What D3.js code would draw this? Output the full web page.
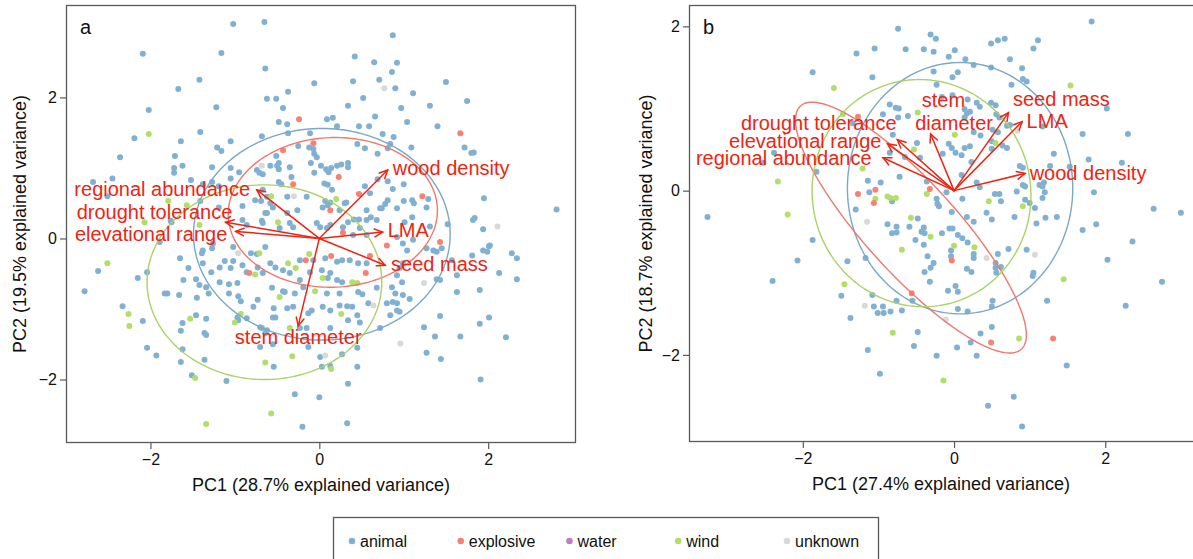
<!DOCTYPE html>
<html>
<head>
<meta charset="utf-8">
<script src="https://cdn.jsdelivr.net/npm/d3@7"></script>
<style>
  body { margin: 0; background: #fff; }
  svg { display: block; font-family: "Liberation Sans", Arial, Helvetica, sans-serif; }
</style>
</head>
<body>
<svg id="chart" width="1193" height="559"></svg>
<script>
// Dispersal syndromes and their colours
const seedTypes = ["animal", "explosive", "water", "wind", "unknown"];
const seedColors = ["#80B1D3", "#FB8072", "#BC80BD", "#B3DE69", "#D9D9D9"];

// Trait loadings (arrow tips) for both PCAs
const traitNames = ["regional abundance", "drought tolerance", "elevational range", "wood density", "LMA", "seed mass", "stem diameter"];
const loadA_PC1 = [-0.74, -1.11, -0.99, 0.81, 0.75, 0.78, -0.25];
const loadA_PC2 = [0.69, 0.23, 0.10, 0.97, 0.09, -0.38, -1.24];
const loadB_PC1 = [-0.94, -0.75, -0.88, 0.94, 0.90, 0.72, -0.31];
const loadB_PC2 = [0.40, 0.62, 0.57, 0.21, 0.84, 0.95, 0.69];

const axisTicks = [-2, 0, 2];
const varianceA = [28.7, 19.5];
const varianceB = [27.4, 18.7];

// Group ellipses: [type, centre PC1, centre PC2, semi-axis a, semi-axis b, rotation (rad)]
const ellipsesA = [
  ["animal", 0.03, 0.06, 1.52, 1.50, 0],
  ["explosive", 0.16, 0.37, 1.24, 1.06, 0.08],
  ["wind", -0.65, -0.62, 1.39, 1.38, 0]
];
const ellipsesB = [
  ["animal", 0.08, 0.03, 1.49, 1.53, 0],
  ["explosive", -0.57, -0.45, 2.08, 0.58, -Math.PI / 4],
  ["wind", -0.43, -0.03, 1.45, 1.38, -0.2]
];

// Species scores, panel a
const aAnimal = [
  [-1.02,3.04],[-0.65,3.07],[-2.09,2.62],[-1.16,2.63],[-0.64,2.41],[-1.42,2.25],[-1.67,2.12],[-1.22,1.86],[-0.62,1.98],[-2.02,1.82],[-2.19,1.42],[-1.41,1.51],[-1.64,1.38],[-1.21,1.29],[-1.16,1.24],[-1.05,1.38],[-0.68,1.45],[-1.71,1.17],[-2.36,1.15],[-1.62,1.03],[-1.72,1.00],[-1.72,0.93],[-1.27,1.01],[-1.05,1.00],[-1.05,0.85],[-0.95,0.94],[-0.74,0.97],[-0.71,0.93],[-0.67,0.91],[-1.52,0.83],[-2.68,0.80],[-2.45,0.85],[-2.51,0.60],[-1.38,0.77],[-1.27,0.80],[-1.19,0.74],[-0.67,0.69],[-0.76,0.54],[-0.69,0.53],[-0.62,0.59],[-1.41,0.53],[-1.19,0.44],[-0.91,0.46],[-1.76,0.25],[-0.58,0.50],[-0.64,0.36],[-0.68,0.25],[-0.91,0.26],[-0.86,0.19],
  [-0.51,1.98],[-0.43,1.85],[-0.37,2.08],[-0.06,2.20],[0.87,2.88],[0.42,2.58],[0.65,2.50],[0.92,2.49],[0.86,2.36],[0.40,2.23],[0.71,2.25],[0.90,2.13],[1.11,2.06],[1.50,2.22],[0.52,1.99],[0.34,1.88],[0.97,1.85],[1.31,1.88],[1.75,1.95],[-0.48,1.65],[-0.38,1.62],[0.09,1.69],[0.16,1.71],[0.21,1.59],[0.47,1.59],[0.59,1.59],[0.66,1.73],[1.04,1.65],[1.40,1.59],[-0.37,1.49],[-0.11,1.49],[0.75,1.48],[0.88,1.44],[0.45,1.34],[0.54,1.28],[1.09,1.29],[1.72,1.29],[1.80,1.21],[1.83,1.22],[-0.25,1.31],[-0.12,1.29],[-0.07,1.27],[-0.51,1.17],[-0.06,1.20],[-0.03,1.15],[0.81,1.28],[0.84,1.34],[0.69,1.20],[-0.58,1.03],[-0.50,1.03],[-0.48,1.07],[-0.48,0.98],[-0.35,1.01],[-0.33,0.87],[-0.10,1.07],[-0.06,0.93],[0.02,1.03],[0.08,0.98],[0.11,0.94],[0.14,1.00],[0.21,1.03],[0.26,1.05],[0.34,1.07],[0.34,1.01],[-0.48,0.80],[-0.45,0.77],[-0.38,0.59],[-0.15,0.59],[0.06,0.78],[0.10,0.76],[0.15,0.69],[0.32,0.51],[0.13,0.51],[0.07,0.53],[0.54,0.74],[0.60,0.64],[0.69,0.84],[0.81,0.81],[1.00,0.77],[0.87,0.70],[1.29,0.56],[1.00,0.53],[1.10,0.54],[1.12,0.50],[0.81,0.54],[0.78,0.49],[0.74,0.43],[0.72,0.43],[0.92,0.43],[1.95,0.57],[1.84,0.29],[0.56,0.40],[0.56,0.26],[0.61,0.30],[0.47,0.27],[0.41,0.27],[0.68,0.26],[0.24,0.40],[0.30,0.50],[0.04,0.44],[0.10,0.47],[-0.26,0.40],[-0.38,0.36],[-0.55,0.44],[-0.62,0.36],[-0.67,0.22],[-0.47,0.15],[-0.31,0.16],[0.01,0.16],[0.09,0.15],[0.34,0.23],[0.28,0.16],[1.10,0.30],[1.01,0.23],[1.27,0.44],[1.31,0.17],
  [2.81,0.41],[1.94,0.13],[1.94,-0.17],[1.99,-0.19],[2.01,-0.11],[2.28,-0.21],[2.34,-0.28],[2.13,-0.49],[2.34,-0.58],[1.90,-0.73],[2.01,-1.12],[1.90,-1.21],[2.21,-1.40],[1.91,-2.00],
  [-0.35,0.22],[-0.03,0.22],[0.13,0.19],[0.40,0.05],[0.48,0.15],[0.56,0.05],[0.92,0.02],[0.99,-0.07],[1.04,-0.17],[1.11,-0.02],[1.27,-0.14],[1.35,-0.17],[1.39,-0.19],[1.45,-0.14],[1.52,0.20],[1.82,0.26],[2.02,-0.10],[1.81,-0.24],[1.57,-0.31],[1.63,-0.52],[1.63,-0.76],[1.43,-0.59],[1.39,-0.58],[1.67,-1.39],[1.43,-1.10],[1.37,-1.39],[1.24,-1.26],[1.27,-1.62],[1.44,-1.71],[-0.23,-0.31],[-0.07,-0.31],[0.07,-0.28],[0.21,-0.33],[0.27,-0.31],[0.36,-0.31],[0.46,-0.35],[0.56,-0.35],[-0.58,-0.35],[-0.52,-0.41],[-0.43,-0.45],[-0.35,-0.49],[-0.11,-0.48],[0.03,-0.45],[0.13,-0.49],[0.10,-0.56],[0.21,-0.59],[0.27,-0.62],[-0.23,-0.59],[-0.19,-0.69],[-0.29,-0.78],[-0.56,-0.70],[-0.43,-0.75],[-0.41,-0.76],[0.09,-0.78],[0.24,-0.78],[0.46,-0.76],[0.51,-0.79],[0.68,-0.70],[0.58,-0.92],[0.24,-0.95],[0.33,-0.96],[0.39,-0.97],[0.04,-0.97],[0.13,-1.02],[-0.09,-1.02],[-0.13,-1.06],[-0.54,-0.99],[-0.38,-0.99],[-0.31,-0.97],[-0.55,-1.12],[-0.52,-1.12],[0.34,-1.16],[0.45,-1.09],[0.48,-1.19],[0.72,-1.27],[0.84,-1.09],[0.92,-1.02],[0.95,-1.04],[0.87,-0.90],[0.92,-0.92],[1.07,-0.86],[0.99,-0.80],[0.80,-0.92],[0.90,-0.78],[0.98,-0.62],[0.92,-0.52],[0.95,-0.42],[0.99,-0.35],[0.86,-0.69],[0.13,-1.27],[-0.23,-1.27],[-0.15,-1.27],[-0.68,-1.27],[-0.64,-1.34],[-0.55,-1.50],[-0.70,-1.54],[-0.13,-1.54],[0.01,-1.68],[0.03,-1.82],[0.13,-1.81],[0.27,-1.64],[0.45,-1.55],[0.45,-1.82],[-0.54,-1.82],[0.34,-2.06],[-0.29,-2.21],[0.00,-2.25],[-0.20,-2.67],[0.33,-2.62],
  [-1.89,-0.05],[-1.75,0.23],[-1.38,-0.17],[-1.39,-0.21],[-1.26,-0.07],[-1.27,-0.14],[-1.02,-0.12],[-0.81,-0.21],[-0.74,-0.22],[-0.64,-0.12],[-1.65,-0.28],[-1.55,-0.42],[-1.38,-0.35],[-1.28,-0.48],[-1.18,-0.41],[-1.12,-0.32],[-1.05,-0.42],[-1.02,-0.32],[-0.86,-0.48],[-0.91,-0.38],[-0.73,-0.41],[-0.67,-0.49],[-2.62,-0.46],[-2.78,-0.75],[-2.15,-0.56],[-2.04,-0.48],[-1.61,-0.59],[-1.46,-0.58],[-1.42,-0.66],[-1.34,-0.69],[-1.18,-0.62],[-1.07,-0.65],[-0.97,-0.63],[-1.83,-0.78],[-1.80,-0.78],[-1.66,-0.80],[-1.45,-0.84],[-1.31,-0.78],[-1.07,-0.78],[-0.96,-0.82],[-0.93,-0.89],[-0.78,-0.97],[-0.73,-0.87],[-2.33,-0.96],[-2.09,-1.17],[-1.62,-1.20],[-1.64,-1.31],[-1.46,-1.09],[-1.34,-1.14],[-1.36,-1.34],[-1.34,-1.37],[-0.86,-1.13],[-0.97,-1.12],[-0.96,-1.16],[-0.70,-1.26],[-0.62,-1.30],[-2.04,-1.55],[-1.93,-1.66],[-1.62,-1.57],[-1.64,-1.75],[-1.36,-1.72],[-1.51,-1.94],[-1.10,-2.02]
];
const aExplosive = [
  [-0.24,1.69],[-0.43,1.25],[-0.07,1.35],[0.23,0.87],[-0.31,0.77],[0.47,0.63],[1.22,0.60],[1.67,1.49],[0.13,0.40],[0.28,0.08],[0.80,-0.10],[1.43,-0.05],[0.14,-0.25],[-0.16,-0.31],[0.60,-0.25],[0.55,-0.49],[-0.83,-0.49]
];
const aWater = [];
const aWind = [
  [-2.02,1.48],[-1.79,0.53],[-1.57,0.47],[-2.07,0.23],[-1.42,0.19],[-0.57,0.60],[0.20,0.56],[-0.49,0.23],[-0.37,-0.35],[-0.28,-0.42],[-0.12,-0.22],[0.04,-0.56],[0.39,-0.62],[0.45,-0.63],[-0.05,-0.75],[-0.47,-0.83],[0.26,-1.07],[-0.35,-1.27],[0.14,-1.85],[-0.32,-1.67],[-0.64,-1.76],[-0.57,-2.48],[-0.71,-0.21],[-0.76,-0.51],[-2.51,-0.35],[-2.26,-1.07],[-2.25,-1.24],[-1.53,-1.14],[-1.00,-1.19],[-0.93,-1.07],[-1.47,-1.98],[-1.34,-2.63]
];
const aUnknown = [
  [-0.68,1.03],[0.77,2.13],[-0.30,0.60],[2.11,0.17],[1.24,-0.63],[0.96,-1.49],[0.64,-0.95],[0.07,-1.66],[-0.96,-0.21]
];

// Species scores, panel b
const bAnimal = [
  [-0.74,1.97],[-1.29,1.67],[-1.05,1.73],[-0.64,1.72],[-1.87,1.44],[-1.08,1.38],[-0.85,1.05],[-0.77,1.01],[-0.73,1.00],[-0.61,0.91],[-0.74,0.89],[-1.34,0.82],[-0.94,0.93],[-0.81,0.68],[-2.38,0.46],[-2.52,0.34],[-1.82,0.23],[-1.14,0.12],[-0.97,0.10],[-0.65,0.41],[-0.85,0.46],[-0.72,0.17],[-1.12,-0.02],[-0.82,-0.13],[-1.30,-0.23],[-3.26,-0.32],[-0.88,-0.41],[-0.76,-0.44],[-0.82,-0.52],[-0.76,-0.51],[-1.87,-0.60],[-2.07,-0.85],[-2.40,-1.10],[-1.41,-0.86],[-1.17,-0.82],[-1.49,-1.28],[-1.08,-1.27],[-1.06,-1.41],[-1.01,-1.49],[-0.93,-1.49],[-0.84,-1.47],[-0.94,-1.41],[-0.76,-1.34],[-0.69,-1.46],[-1.37,-1.55],[-1.14,-1.94],[-0.98,-2.23],
  [1.82,2.06],[-0.31,1.90],[-0.24,1.85],[-0.40,1.72],[-0.27,1.69],[0.01,1.71],[0.49,1.79],[0.58,1.83],[0.67,1.85],[1.11,1.83],[1.05,1.73],[0.74,1.60],[-0.07,1.63],[0.26,1.53],[0.15,1.60],[0.49,1.50],[0.90,1.49],[-0.27,1.45],[-0.02,1.38],[0.05,1.44],[-0.23,1.29],[0.76,1.29],[0.91,1.36],[0.96,1.33],[-0.16,1.14],[-0.02,1.16],[0.18,1.11],[0.14,0.99],[0.21,0.96],[0.17,0.94],[0.14,0.89],[0.30,1.07],[0.34,1.02],[0.49,1.07],[0.55,1.04],[0.56,0.93],[0.60,0.89],[2.02,1.00],[0.26,0.71],[0.35,0.67],[0.51,0.74],[0.58,0.71],[0.70,0.79],[0.74,0.80],[1.17,0.78],[1.70,0.69],[2.30,0.69],[-0.49,0.58],[-0.07,0.57],[-0.03,0.52],[0.21,0.54],[0.14,0.52],[-0.15,0.45],[0.02,0.46],[0.10,0.43],[0.50,0.60],[0.50,0.51],[0.64,0.55],[0.70,0.52],[1.32,0.45],[1.78,0.38],[2.22,0.34],[0.87,0.30],[0.91,0.28],[1.27,0.30],[1.53,0.29],[-0.36,0.11],[-0.23,-0.10],[-0.22,-0.16],[0.10,0.19],[0.11,-0.10],[0.30,0.10],[0.34,0.04],[0.54,-0.04],[0.60,-0.04],[0.62,-0.13],[0.83,-0.01],[0.91,0.07],[0.94,0.05],[1.19,0.10],[1.17,0.05],[1.13,0.07],[1.20,-0.02],[1.17,-0.09],[0.94,-0.11],[1.00,-0.15],[1.07,-0.21],[1.85,-0.02],[2.64,-0.22],[3.00,-0.27],[1.36,-0.32],[1.21,-0.33],[0.80,-0.32],[0.43,-0.27],[0.17,-0.32],[-0.03,-0.26],[-0.48,-0.34],[-0.45,0.40],[-0.10,-0.02],[-0.20,-0.19],[0.23,0.35],
  [-0.59,-0.44],[-0.43,-0.50],[-0.40,-0.45],[-0.39,-0.52],[-0.16,-0.52],[-0.06,-0.46],[-0.02,-0.46],[0.05,-0.54],[0.26,-0.38],[0.50,-0.35],[1.09,-0.40],[1.70,-0.48],[1.88,-0.41],[2.36,-0.62],[-0.51,-0.60],[-0.40,-0.66],[0.11,-0.58],[0.18,-0.63],[-0.04,-0.73],[-0.04,-0.80],[0.26,-0.77],[0.26,-0.82],[0.58,-0.77],[0.72,-0.71],[0.96,-0.72],[-0.35,-0.80],[-0.27,-0.88],[-0.31,-0.94],[-0.39,-0.99],[-0.32,-1.11],[-0.08,-1.22],[0.05,-1.23],[0.02,-1.16],[0.17,-0.95],[0.23,-0.99],[0.55,-0.88],[0.62,-0.93],[0.55,-0.94],[0.56,-1.00],[1.05,-1.00],[1.04,-1.04],[2.03,-0.84],[2.75,-1.11],[1.23,-1.34],[2.27,-1.40],[-0.55,-1.34],[0.05,-1.44],[0.18,-1.47],[0.50,-1.41],[0.51,-1.34],[-0.48,-1.72],[-0.53,-1.89],[-0.23,-2.01],[0.04,-1.91],[0.22,-1.85],[0.35,-1.74],[0.50,-1.66],[0.30,-2.01],[1.49,-2.13],[0.79,-2.51],[0.45,-2.62],[0.90,-2.87]
];
const bExplosive = [
  [-1.27,0.90],[-1.04,0.01],[-1.27,-0.04],[-1.06,-0.15],[-0.32,0.02],[-0.03,-0.85],[-0.56,-1.25],[0.49,-1.85],[1.31,-1.80]
];
const bWater = [];
const bWind = [
  [-1.59,1.25],[-0.48,0.95],[-1.47,0.93],[0.01,0.68],[-0.53,0.50],[-1.21,0.27],[-2.33,0.11],[-0.88,-0.07],[-0.84,-0.09],[-0.77,-0.09],[-1.04,-0.10],[-2.20,-0.29],[-0.36,-0.04],[0.46,-0.13],[-0.57,-0.33],[-0.31,-0.56],[0.00,-0.67],[0.27,-0.69],[-0.69,-0.72],[-1.45,-1.14],[1.54,1.28],[0.55,0.58],[0.91,-0.19],[1.45,-1.08],[0.86,-1.80],[-0.81,-1.73],[-0.14,-2.31]
];
const bUnknown = [
  [-1.15,-0.38],[0.84,0.73],[0.43,-0.82],[1.07,-0.78],[-1.18,-1.40],[-0.11,-1.57]
];

// ---------------------------------------------------------------
const svg = d3.select("#chart");
const arrowRed = "#EE2413";
const frameGrey = "#5a5a5a";
const colorOf = d3.scaleOrdinal().domain(seedTypes).range(seedColors);

function drawPanel(cfg) {
  const x = d3.scaleLinear().domain(cfg.xDomain).range([cfg.left, cfg.right]);
  const y = d3.scaleLinear().domain(cfg.yDomain).range([cfg.bottom, cfg.top]);
  const g = svg.append("g");

  const clipId = "clip-" + cfg.name;
  svg.append("clipPath").attr("id", clipId)
    .append("rect")
    .attr("x", cfg.left).attr("y", cfg.top)
    .attr("width", cfg.right - cfg.left).attr("height", cfg.bottom - cfg.top);

  const plot = g.append("g").attr("clip-path", `url(#${clipId})`);

  // species points
  cfg.groups.forEach(([type, pts]) => {
    plot.append("g").selectAll("circle").data(pts).join("circle")
      .attr("cx", d => x(d[0]))
      .attr("cy", d => y(d[1]))
      .attr("r", 3)
      .attr("fill", colorOf(type));
  });

  // group ellipses
  const ellipseLine = d3.line().x(d => x(d[0])).y(d => y(d[1])).curve(d3.curveLinearClosed);
  cfg.ellipses.forEach(([type, cx, cy, a, b, th]) => {
    const pts = d3.range(0, 2 * Math.PI, Math.PI / 90).map(t => [
      cx + a * Math.cos(t) * Math.cos(th) - b * Math.sin(t) * Math.sin(th),
      cy + a * Math.cos(t) * Math.sin(th) + b * Math.sin(t) * Math.cos(th)
    ]);
    plot.append("path").attr("d", ellipseLine(pts))
      .attr("fill", "none")
      .attr("stroke", d3.color(colorOf(type)).darker(0.15))
      .attr("stroke-width", 1.4);
  });

  // loading arrows
  const arrows = g.append("g").attr("stroke", arrowRed).attr("stroke-width", 1.5)
    .attr("fill", "none").attr("stroke-linecap", "round");
  traitNames.forEach((name, i) => {
    const x0 = x(0), y0 = y(0);
    const x1 = x(cfg.pc1[i]), y1 = y(cfg.pc2[i]);
    const ang = Math.atan2(y1 - y0, x1 - x0);
    const hl = 9, spread = Math.PI / 7;
    arrows.append("line").attr("x1", x0).attr("y1", y0).attr("x2", x1).attr("y2", y1);
    arrows.append("path").attr("d",
      `M${x1 - hl * Math.cos(ang - spread)},${y1 - hl * Math.sin(ang - spread)}` +
      `L${x1},${y1}` +
      `L${x1 - hl * Math.cos(ang + spread)},${y1 - hl * Math.sin(ang + spread)}`);
  });

  // trait labels
  cfg.labels.forEach(([text, lx, ly, anchor]) => {
    g.append("text")
      .attr("x", x(lx)).attr("y", y(ly))
      .attr("text-anchor", anchor)
      .attr("dominant-baseline", "central")
      .attr("font-size", 20)
      .attr("fill", arrowRed)
      .text(text);
  });

  // frame
  g.append("rect")
    .attr("x", cfg.left + 0.5).attr("y", cfg.top + 0.5)
    .attr("width", cfg.right - cfg.left - 1).attr("height", cfg.bottom - cfg.top - 1)
    .attr("fill", "none").attr("stroke", frameGrey).attr("stroke-width", 1.3);

  // axes
  const xAxis = g.append("g").attr("transform", `translate(0,${cfg.bottom})`)
    .call(d3.axisBottom(x).tickValues(axisTicks).tickSize(6).tickPadding(5).tickFormat(d3.format("d")));
  const yAxis = g.append("g").attr("transform", `translate(${cfg.left},0)`)
    .call(d3.axisLeft(y).tickValues(axisTicks).tickSize(6).tickPadding(3).tickFormat(d3.format("d")));
  [xAxis, yAxis].forEach(ax => {
    ax.select(".domain").remove();
    ax.selectAll(".tick line").attr("stroke", frameGrey).attr("stroke-width", 1.2);
    ax.selectAll(".tick text").attr("font-size", 16).attr("fill", "#111")
      .attr("font-family", "'Liberation Sans', Arial, sans-serif");
  });

  // axis titles
  g.append("text")
    .attr("x", (cfg.left + Math.min(cfg.right, 1193)) / 2).attr("y", cfg.bottom + 48)
    .attr("text-anchor", "middle").attr("font-size", 18).attr("fill", "#111")
    .text(`PC1 (${cfg.variance[0]}% explained variance)`);
  g.append("text")
    .attr("transform", `translate(${cfg.yTitleX},${(cfg.top + cfg.bottom) / 2}) rotate(-90)`)
    .attr("text-anchor", "middle").attr("dy", "0.35em").attr("font-size", 18).attr("fill", "#111")
    .text(`PC2 (${cfg.variance[1]}% explained variance)`);

  // panel letter
  g.append("text").attr("x", cfg.left + 14).attr("y", cfg.top + 29)
    .attr("font-size", 20).attr("fill", "#111").text(cfg.name);
}

drawPanel({
  name: "a",
  left: 66, right: 576, top: 5, bottom: 443,
  xDomain: [-3.00, 3.04], yDomain: [-2.90, 3.31],
  yTitleX: 20,
  variance: varianceA,
  groups: [["animal", aAnimal], ["water", aWater], ["unknown", aUnknown], ["wind", aWind], ["explosive", aExplosive]],
  ellipses: ellipsesA,
  pc1: loadA_PC1, pc2: loadA_PC2,
  labels: [
    ["regional abundance", -0.82, 0.70, "end"],
    ["drought tolerance", -1.03, 0.37, "end"],
    ["elevational range", -1.09, 0.06, "end"],
    ["wood density", 0.87, 1.00, "start"],
    ["LMA", 0.81, 0.12, "start"],
    ["seed mass", 0.85, -0.36, "start"],
    ["stem diameter", -0.25, -1.40, "middle"]
  ]
});

drawPanel({
  name: "b",
  left: 689, right: 1196, top: 5, bottom: 442,
  xDomain: [-3.505, 3.20], yDomain: [-3.06, 2.26],
  yTitleX: 646,
  variance: varianceB,
  groups: [["animal", bAnimal], ["water", bWater], ["unknown", bUnknown], ["wind", bWind], ["explosive", bExplosive]],
  ellipses: ellipsesB,
  pc1: loadB_PC1, pc2: loadB_PC2,
  labels: [
    ["regional abundance", -1.09, 0.40, "end"],
    ["drought tolerance", -0.76, 0.82, "end"],
    ["elevational range", -0.96, 0.60, "end"],
    ["wood density", 1.00, 0.22, "start"],
    ["LMA", 0.96, 0.85, "start"],
    ["seed mass", 0.78, 1.11, "start"],
    ["stem", -0.14, 1.10, "middle"],
    ["diameter", 0.00, 0.82, "middle"]
  ]
});

// legend
const legend = svg.append("g");
legend.append("rect")
  .attr("x", 333.5).attr("y", 517.5).attr("width", 545).attr("height", 60)
  .attr("fill", "#fff").attr("stroke", frameGrey).attr("stroke-width", 1.3);
const legendX = d3.scalePoint().domain(seedTypes).range([352, 787]);
const items = legend.selectAll("g.item").data(seedTypes).join("g").attr("class", "item")
  .attr("transform", d => `translate(${legendX(d)},541)`);
items.append("circle").attr("r", 3.3).attr("fill", d => colorOf(d));
items.append("text").attr("x", 8).attr("dominant-baseline", "central")
  .attr("font-size", 16).attr("fill", "#111").text(d => d);
</script>
</body>
</html>
